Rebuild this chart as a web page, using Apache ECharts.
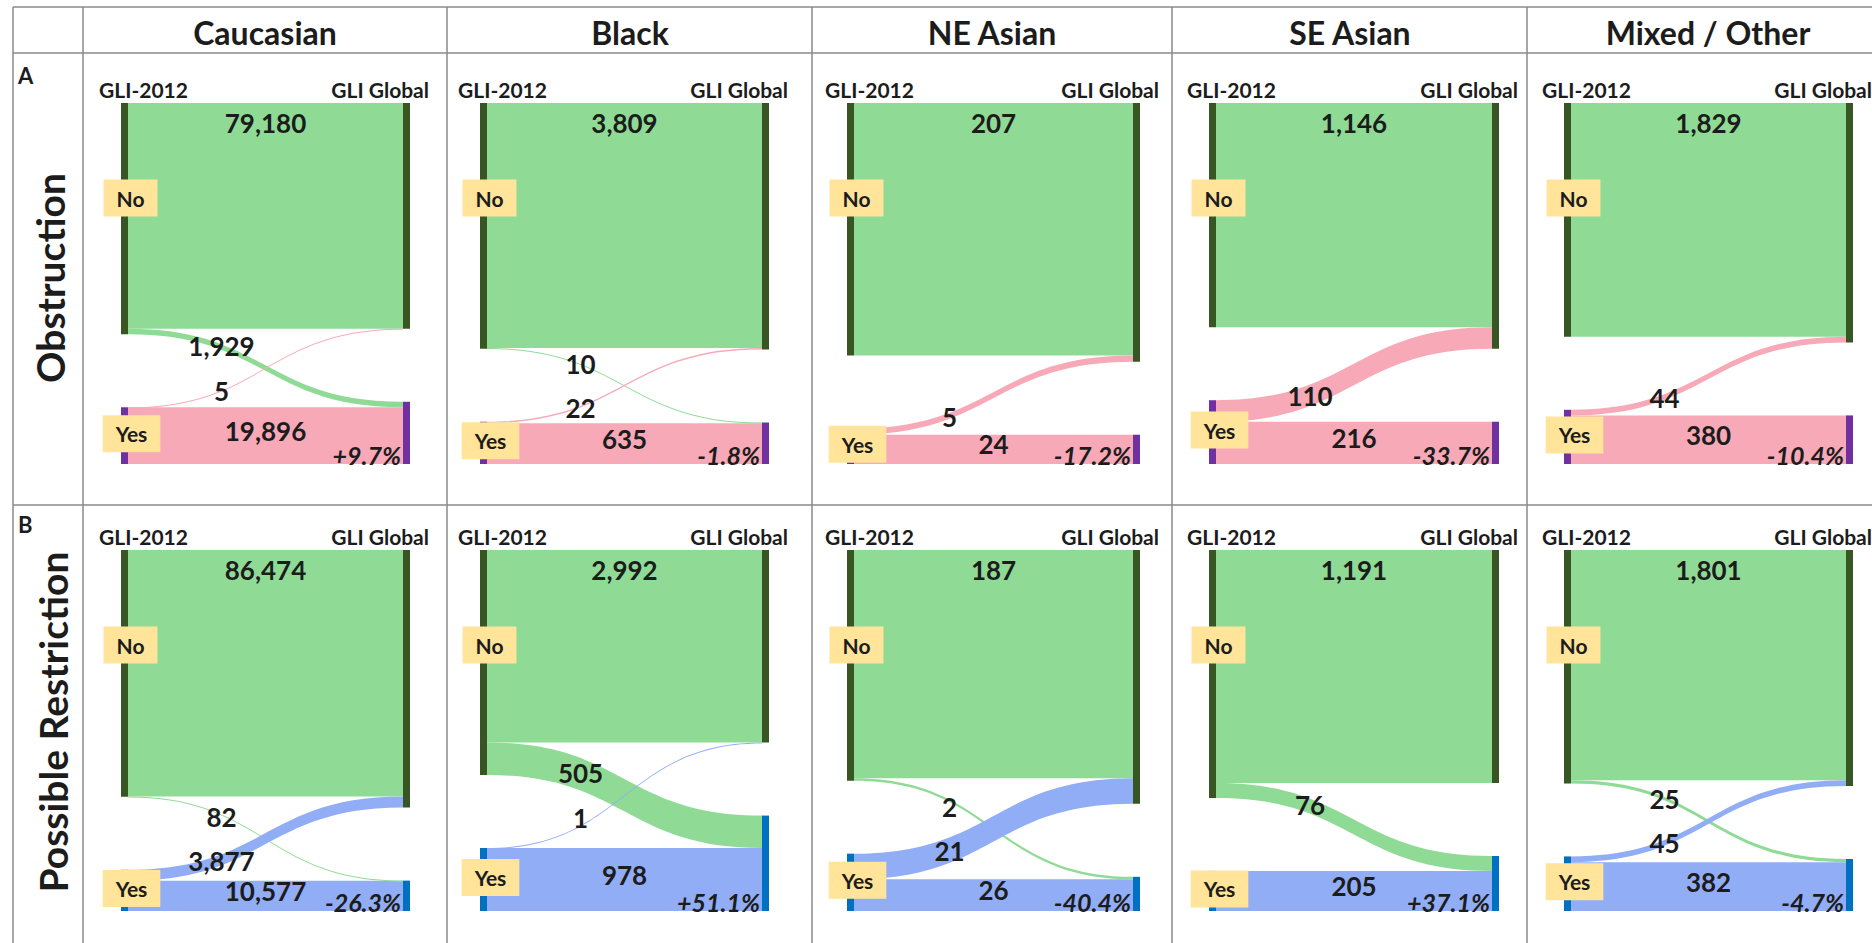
<!DOCTYPE html>
<html>
<head>
<meta charset="utf-8">
<script src="https://cdn.jsdelivr.net/npm/echarts@6/dist/echarts.min.js"></script>
<style>
  html, body { margin: 0; padding: 0; background: #ffffff; }
  #chart { width: 1872px; height: 943px; }
</style>
</head>
<body>
<div id="chart"></div>
<script>
// ---------------- DATA ----------------
const ethnicities = ['Caucasian', 'Black', 'NE Asian', 'SE Asian', 'Mixed / Other'];
const outcomes = ['Obstruction', 'Possible Restriction'];
const panelLetters = ['A', 'B'];
const sourceLabel = 'GLI-2012';
const targetLabel = 'GLI Global';
const stateLabels = ['No', 'Yes'];

// Obstruction (row A): flows GLI-2012 -> GLI Global
const obsNoNo   = [79180, 3809, 207, 1146, 1829];
const obsNoYes  = [1929, 10, 0, 0, 0];
const obsYesNo  = [5, 22, 5, 110, 44];
const obsYesYes = [19896, 635, 24, 216, 380];
const obsChange = ['+9.7%', '-1.8%', '-17.2%', '-33.7%', '-10.4%'];

// Possible Restriction (row B)
const resNoNo   = [86474, 2992, 187, 1191, 1801];
const resNoYes  = [82, 505, 2, 76, 25];
const resYesNo  = [3877, 1, 21, 0, 45];
const resYesYes = [10577, 978, 26, 205, 382];
const resChange = ['-26.3%', '+51.1%', '-40.4%', '+37.1%', '-4.7%'];

// ---------------- LAYOUT / STYLE ----------------
const FONT = 'Lato, "Open Sans", sans-serif';
const colLefts = [121, 480, 847, 1209, 1564];
const colWidths = [289, 289, 293, 290, 289];
const rowTops = [103, 550];
const boxH = 361;
const nodeGap = 73;
const noNodeColor = '#375623';
const yesNodeColors = ['#7030A0', '#0070C0'];
const noFlowColor = '#8FDB96';
const yesFlowColors = ['#F7A9B8', '#91ADF5'];
const tagColor = '#FFE49A';
const textColor = '#1c1c1c';

const rows = [
  { noNo: obsNoNo, noYes: obsNoYes, yesNo: obsYesNo, yesYes: obsYesYes, change: obsChange },
  { noNo: resNoNo, noYes: resNoYes, yesNo: resYesNo, yesYes: resYesYes, change: resChange }
];

const fmt = v => Number(v).toLocaleString('en-US');

function buildSeries(r, c) {
  const d = rows[r];
  const noNo = d.noNo[c], noYes = d.noYes[c], yesNo = d.yesNo[c], yesYes = d.yesYes[c];
  const total = noNo + noYes + yesNo + yesYes;
  const ky = (boxH - nodeGap) / total;
  const yesColor = yesNodeColors[r];
  const yesFlow = yesFlowColors[r];
  const tag = {
    backgroundColor: tagColor, padding: [8, 13], align: 'center', verticalAlign: 'middle',
    fontSize: 21, fontWeight: 'bold', color: textColor, fontFamily: FONT
  };
  const nodes = [
    { name: 'L-No', itemStyle: { color: noNodeColor },
      label: Object.assign({ formatter: stateLabels[0], position: ['50%', 95], offset: [6, 0] }, tag) },
    { name: 'L-Yes', itemStyle: { color: yesColor },
      label: Object.assign({ formatter: stateLabels[1], position: ['50%', '50%'], offset: [7, -2] }, tag) },
    { name: 'R-No', itemStyle: { color: noNodeColor }, label: { show: false } },
    { name: 'R-Yes', itemStyle: { color: yesColor },
      label: { formatter: d.change[c], position: ['0%', '100%'], align: 'right', verticalAlign: 'bottom',
               offset: [-2, 3], fontStyle: 'italic', fontWeight: 'bold', fontSize: 25, color: textColor,
               fontFamily: FONT } }
  ];
  const links = [
    { source: 'L-No', target: 'R-No', value: noNo, lineStyle: { color: noFlowColor },
      edgeLabel: { offset: [0, -noNo * ky / 2 + 20] } },
    { source: 'L-Yes', target: 'R-Yes', value: yesYes, lineStyle: { color: yesFlow },
      edgeLabel: { offset: [0, -5] } }
  ];
  if (noYes > 0) links.push({ source: 'L-No', target: 'R-Yes', value: noYes,
      lineStyle: { color: noFlowColor }, edgeLabel: { offset: [-44, -22] } });
  if (yesNo > 0) links.push({ source: 'L-Yes', target: 'R-No', value: yesNo,
      lineStyle: { color: yesFlow }, edgeLabel: { offset: [-44, 22] } });

  return {
    type: 'sankey',
    left: colLefts[c], top: rowTops[r], width: colWidths[c], height: boxH,
    nodeWidth: 7, nodeGap: nodeGap, layoutIterations: 0, draggable: false,
    silent: true, animation: false,
    emphasis: { disabled: true },
    data: nodes, links: links,
    itemStyle: { borderWidth: 0 },
    lineStyle: { opacity: 1, curveness: 0.5 },
    label: { show: true, fontFamily: FONT, color: textColor },
    edgeLabel: {
      show: true, fontFamily: FONT, fontSize: 26, fontWeight: 'bold', color: textColor,
      formatter: p => fmt(p.value != null ? p.value : p.data.value)
    }
  };
}

const series = [];
for (let r = 0; r < 2; r++) for (let c = 0; c < 5; c++) series.push(buildSeries(r, c));

// table grid + texts
const lineStyle = { stroke: '#8a8a8a', lineWidth: 1.5 };
const vLines = [13, 83, 447, 812, 1172, 1527];
const hLines = [7, 53, 505];
const graphics = [];
vLines.forEach(x => graphics.push({ type: 'line', silent: true, shape: { x1: x, y1: 7, x2: x, y2: 943 }, style: lineStyle }));
hLines.forEach(y => graphics.push({ type: 'line', silent: true, shape: { x1: 13, y1: y, x2: 1872, y2: y }, style: lineStyle }));

const headerCenters = [265, 630, 992, 1350, 1708];
ethnicities.forEach((name, i) => graphics.push({
  type: 'text', x: headerCenters[i], y: 32, silent: true,
  style: { text: name, fill: textColor, font: 'bold 32px ' + FONT, textAlign: 'center', textVerticalAlign: 'middle' }
}));
const rowLabelCenters = [[50, 278], [53, 722]];
outcomes.forEach((name, i) => graphics.push({
  type: 'text', x: rowLabelCenters[i][0], y: rowLabelCenters[i][1], rotation: Math.PI / 2, silent: true,
  style: { text: name, fill: textColor, font: 'bold 39px ' + FONT, textAlign: 'center', textVerticalAlign: 'middle' }
}));
const letterYs = [75, 524];
panelLetters.forEach((l, i) => graphics.push({
  type: 'text', x: 18, y: letterYs[i], silent: true,
  style: { text: l, fill: textColor, font: 'bold 22px ' + FONT, textAlign: 'left', textVerticalAlign: 'middle' }
}));
for (let r = 0; r < 2; r++) for (let c = 0; c < 5; c++) {
  graphics.push({ type: 'text', x: colLefts[c] - 22, y: rowTops[r] - 14, silent: true,
    style: { text: sourceLabel, fill: textColor, font: 'bold 21px ' + FONT, textAlign: 'left', textVerticalAlign: 'middle' } });
  graphics.push({ type: 'text', x: colLefts[c] + colWidths[c] + 19, y: rowTops[r] - 14, silent: true,
    style: { text: targetLabel, fill: textColor, font: 'bold 21px ' + FONT, textAlign: 'right', textVerticalAlign: 'middle' } });
}

const chart = echarts.init(document.getElementById('chart'), null, { renderer: 'svg' });
chart.setOption({
  backgroundColor: '#ffffff',
  animation: false,
  series: series,
  graphic: graphics
});
</script>
</body>
</html>
